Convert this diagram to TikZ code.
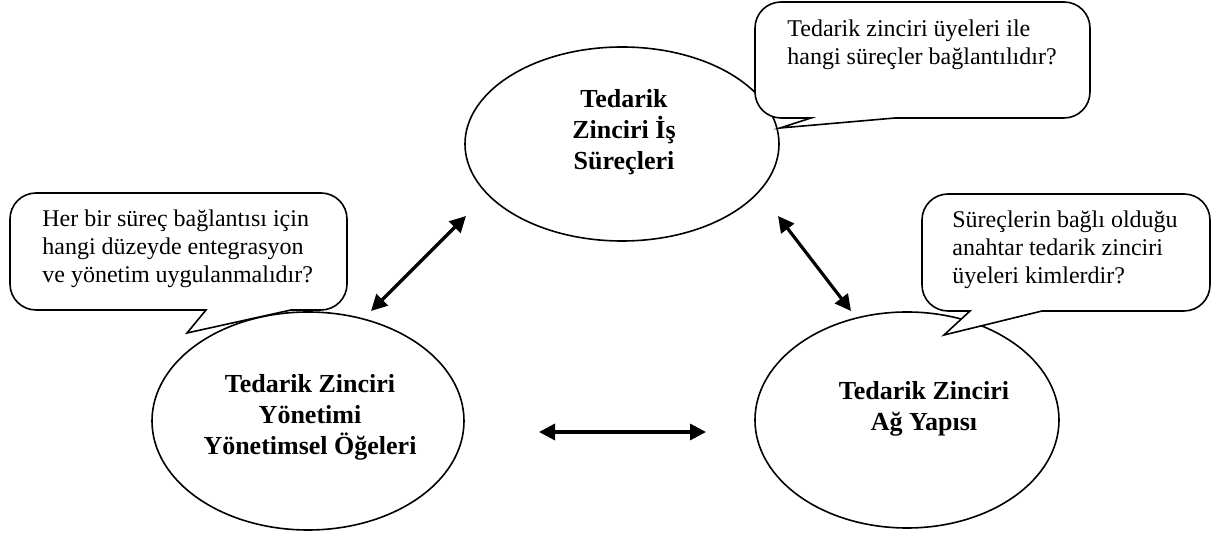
\documentclass[tikz,border=0pt]{standalone}
\usepackage{fontspec}
\setmainfont{Liberation Serif}
\usetikzlibrary{arrows.meta,shapes.geometric}

% Rounded speech bubble with a wedge tail on its lower edge.
% #1 left, #2 top, #3 right, #4 bottom, #5 corner radius,
% #6 left tail root, #7 right tail root, #8 tail tip coordinate
\newcommand\bubble[8]{%
  \draw[bubbleline]
    ({#1+#5},#2) -- ({#3-#5},#2)
    arc[start angle=270,end angle=360,radius=#5]
    -- (#3,{#4-#5})
    arc[start angle=0,end angle=90,radius=#5]
    -- (#7,#4) -- (#8) -- (#6,#4) -- ({#1+#5},#4)
    arc[start angle=90,end angle=180,radius=#5]
    -- (#1,{#2+#5})
    arc[start angle=180,end angle=270,radius=#5]
    -- cycle;}

\begin{document}
\begin{tikzpicture}[x=0.5pt,y=-0.5pt,
  oval/.style={ellipse,draw,line width=0.8pt,inner sep=0pt,fill=white},
  bubbleline/.style={draw,fill=white,line width=0.8pt,line join=miter},
  link/.style={line width=1.6pt,{Triangle[length=8pt,width=8pt]}-{Triangle[length=8pt,width=8pt]}},
  note/.style={font=\fontsize{12}{14}\selectfont,align=left,inner sep=0pt},
  title/.style={font=\fontsize{13}{15.5}\selectfont\bfseries,align=center,inner sep=0pt}]
\path[use as bounding box] (0,0) rectangle (1212,533);

% the three areas
\node[oval,minimum width=157pt,minimum height=97pt] (isSurec) at (622,144) {};
\node[oval,minimum width=156pt,minimum height=109pt] (yonetim) at (308,421) {};
\node[oval,minimum width=152pt,minimum height=108pt] (agYapi) at (907,420) {};

% tail tips of the question bubbles
\coordinate (tipTop) at (780,128);
\coordinate (tipLeft) at (187,333);
\coordinate (tipRight) at (944,335);

% question bubbles
\bubble{755}{2}{1090}{118}{26}{811}{895}{tipTop}
\bubble{10}{193}{347}{310}{26}{206}{291}{tipLeft}
\bubble{922}{194}{1210}{311}{26}{970}{1042}{tipRight}

% arrow end points
\coordinate (l1a) at (466,216);
\coordinate (l1b) at (371,311);
\coordinate (l2a) at (778,216);
\coordinate (l2b) at (851,311);
\coordinate (l3a) at (539,432);
\coordinate (l3b) at (706,432);

\draw[link] (l1a) -- (l1b);
\draw[link] (l2a) -- (l2b);
\draw[link] (l3a) -- (l3b);

% texts (anchored on the baseline of their last line)
\node[note,anchor=base west] (qTop) at (787,65)
  {Tedarik zinciri üyeleri ile\\hangi süreçler bağlantılıdır?};
\node[note,anchor=base west] (qLeft) at (42,283)
  {Her bir süreç bağlantısı için\\hangi düzeyde entegrasyon\\ve yönetim uygulanmalıdır?};
\node[note,anchor=base west] (qRight) at (952,284)
  {Süreçlerin bağlı olduğu\\anahtar tedarik zinciri\\üyeleri kimlerdir?};

\node[title,anchor=base] (tTop) at (624,170) {Tedarik\\Zinciri İş\\Süreçleri};
\node[title,anchor=base] (tLeft) at (310,455) {Tedarik Zinciri\\Yönetimi\\Yönetimsel Öğeleri};
\node[title,anchor=base] (tRight) at (924,431) {Tedarik Zinciri\\Ağ Yapısı};
\end{tikzpicture}
\end{document}
